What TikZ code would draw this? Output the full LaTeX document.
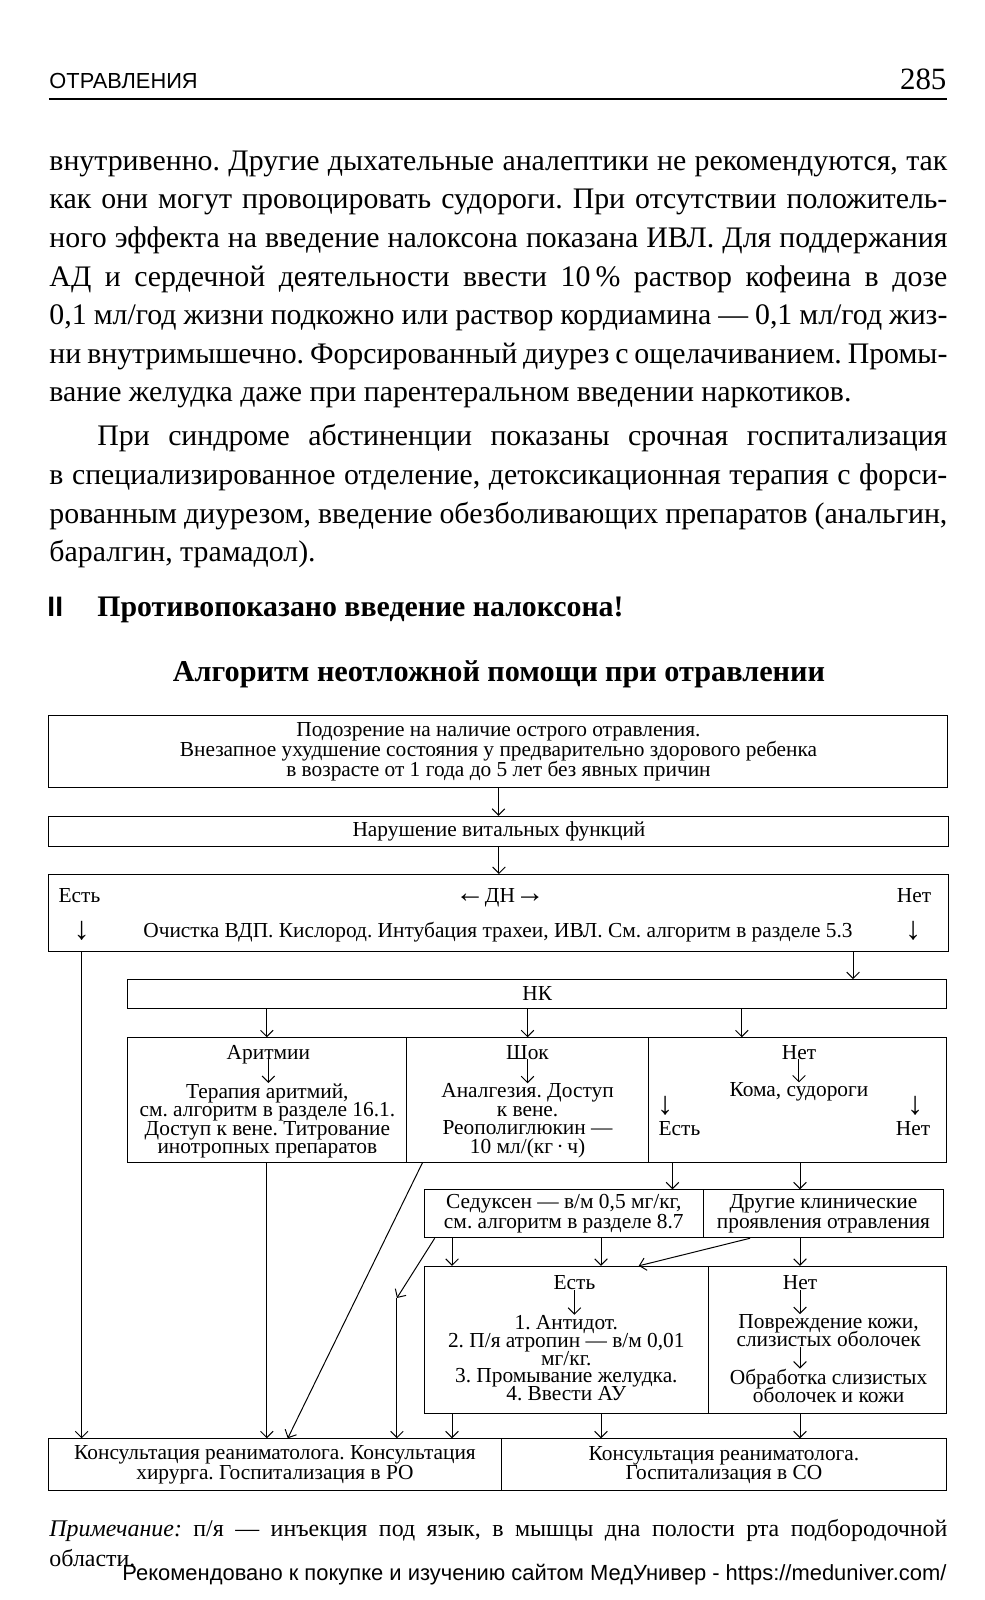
\documentclass[tikz,border=0pt]{standalone}
\usepackage{fontspec}
\setmainfont{Liberation Serif}
\setsansfont{Liberation Sans}
\usetikzlibrary{arrows.meta}
\frenchspacing

% one unit = one pixel of the page
\newlength\pu
\setlength\pu{0.0255cm}

% text sizes
\newcommand\bodysize{\fontsize{21.2}{27}\selectfont}
\newcommand\chartsize[1]{\fontsize{15.2}{#1}\selectfont\lineskiplimit=-20pt\relax}
\newcommand\jline[2]{\makebox[#1\pu][s]{#2}}
% arrow signs set as text
\newcommand\dnarr{{\fontsize{23}{23}\selectfont↓}}
\newcommand\lfarr{{\fontsize{21}{21}\selectfont←}}
\newcommand\rtarr{{\fontsize{21}{21}\selectfont→}}

\tikzset{
  box/.style={draw, inner sep=0pt, align=center, font=\chartsize{13.6pt}},
  txt/.style={inner sep=0pt, align=center, font=\chartsize{13.2pt}},
  body/.style={anchor=base west, inner sep=0pt, font=\bodysize},
  >={Straight Barb[length=4.5pt,width=9pt]}
}

\begin{document}
\begin{tikzpicture}[x=\pu, y=-\pu, line width=0.7pt]
    \path[use as bounding box, fill=white] (0,0) rectangle (965,1568);

    % running head
    \node[anchor=base west, inner sep=0pt, font=\sffamily\fontsize{15.5}{16}\selectfont] (head) at (48,87) {ОТРАВЛЕНИЯ};
    \node[anchor=base east, inner sep=0pt, font=\fontsize{22}{22}\selectfont] (page) at (928,88) {285};
    \draw[line width=1.1pt] (48,97) -- (928,97);

    % text of the page
    \node[body] (b1) at (48,167) {\jline{880}{внутривенно. Другие дыхательные аналептики не рекомендуются, так}};
    \node[body] (b2) at (48,204.8) {\jline{880}{как они могут провоцировать судороги. При отсутствии положитель-}};
    \node[body] (b3) at (48,242.6) {\jline{880}{ного эффекта на введение налоксона показана ИВЛ. Для поддержания}};
    \node[body] (b4) at (48,280.4) {\jline{880}{АД и сердечной деятельности ввести 10\,\% раствор кофеина в дозе}};
    \node[body] (b5) at (48,318.2) {\jline{880}{0,1 мл/год жизни подкожно или раствор кордиамина — 0,1 мл/год жиз-}};
    \node[body] (b6) at (48,356) {\jline{880}{ни внутримышечно. Форсированный диурез с ощелачиванием. Промы-}};
    \node[body] (b7) at (48,393.8) {вание желудка даже при парентеральном введении наркотиков.};
    \node[body] (b8) at (95,437) {\jline{833}{При синдроме абстиненции показаны срочная госпитализация}};
    \node[body] (b9) at (48,474.8) {\jline{880}{в специализированное отделение, детоксикационная терапия с форси-}};
    \node[body] (b10) at (48,512.6) {\jline{880}{рованным диурезом, введение обезболивающих препаратов (анальгин,}};
    \node[body] (b11) at (48,550.4) {баралгин, трамадол).};

    \node[anchor=base west, inner sep=0pt, font=\sffamily\bfseries\fontsize{20}{20}\selectfont] (mark) at (46,604) {II};
    \node[anchor=base west, inner sep=0pt, font=\bfseries\fontsize{21.2}{21}\selectfont] (warn) at (95,604) {Противопоказано введение налоксона!};
    \node[anchor=base, inner sep=0pt, font=\bfseries\fontsize{21.5}{21}\selectfont] (title) at (489,668) {Алгоритм неотложной помощи при отравлении};

    % columns used by the connectors
    \coordinate (xbypass) at (80,0);
    \coordinate (xnk) at (836,0);
    \coordinate (xnocol) at (727,0);
    \coordinate (xshk) at (414,0);
    \coordinate (xshkend) at (282,0);
    \coordinate (xsed) at (659,0);
    \coordinate (xoth) at (784,0);
    \coordinate (xyes1) at (443,0);
    \coordinate (xyes2) at (589,0);
    \coordinate (xsedd) at (426,0);
    \coordinate (xothd) at (735,0);
    \coordinate (xothend) at (626,0);
    \coordinate (join) at (389,1272);

    % boxes
    \node[box, minimum width=881\pu, minimum height=71\pu, font=\chartsize{14.1pt}] (susp) at (488.5,736.5) {Подозрение на наличие острого отравления.\\Внезапное ухудшение состояния у предварительно здорового ребенка\\в возрасте от 1 года до 5 лет без явных причин};
    \node[box, minimum width=882\pu, minimum height=30\pu] (viol) at (489,815) {Нарушение витальных функций};
    \node[box, minimum width=882\pu, minimum height=75\pu] (dn) at (489,894.5) {};
    \node[txt, anchor=base west] (dnyes) at (57,884) {Есть};
    \node[txt, anchor=base] (dnh) at (490,884) {\lfarr ДН\rtarr};
    \node[txt, anchor=base east] (dnno) at (913,884) {Нет};
    \node[txt, anchor=base] (dnyd) at (80,921) {\dnarr};
    \node[txt, anchor=base] (dnt) at (488,919) {Очистка ВДП. Кислород. Интубация трахеи, ИВЛ. См. алгоритм в разделе 5.3};
    \node[txt, anchor=base] (dnnd) at (895,921) {\dnarr};

    \node[box, minimum width=803\pu, minimum height=28\pu] (nk) at (526.5,974) {НК};

    \node[box, minimum width=273\pu, minimum height=122\pu] (arr) at (261.5,1078) {};
    \node[box, minimum width=238\pu, minimum height=122\pu] (shock) at (517,1078) {};
    \node[box, minimum width=292\pu, minimum height=122\pu] (nocol) at (782,1078) {};
    \node[txt, anchor=base] (arrh) at (263,1038) {Аритмии};
    \node[txt] (arrt) at (262,1098.5) {Терапия аритмий,\\см. алгоритм в разделе 16.1.\\Доступ к вене. Титрование\\инотропных препаратов};
    \node[txt, anchor=base] (shockh) at (517,1038) {Шок};
    \node[txt] (shockt) at (517,1098.5) {Аналгезия. Доступ\\к вене.\\Реополиглюкин —\\10 мл/(кг\,·\,ч)};
    \node[txt, anchor=base] (noh1) at (783,1038) {Нет};
    \node[txt, anchor=base] (coma) at (783,1075) {Кома, судороги};
    \node[txt, anchor=base] (comayd) at (652,1092) {\dnarr};
    \node[txt, anchor=base west] (comayes) at (645,1113) {Есть};
    \node[txt, anchor=base] (comand) at (897,1092) {\dnarr};
    \node[txt, anchor=base east] (comano) at (912,1113) {Нет};

    \node[box, minimum width=273\pu, minimum height=47\pu, font=\chartsize{13.7pt}] (sed) at (552.5,1189.5) {Седуксен — в/м 0,5 мг/кг,\\см. алгоритм в разделе 8.7};
    \node[box, minimum width=236\pu, minimum height=47\pu, font=\chartsize{13.7pt}] (other) at (807,1189.5) {Другие клинические\\проявления отравления};

    \node[box, minimum width=278\pu, minimum height=144\pu] (yes) at (555,1313) {};
    \node[box, minimum width=234\pu, minimum height=144\pu] (no) at (811,1313) {};
    \node[txt, anchor=base] (yesh) at (563,1264) {Есть};
    \node[txt, font=\chartsize{12.7pt}] (yest) at (555,1331) {1. Антидот.\\2. П/я атропин — в/м 0,01\\мг/кг.\\3. Промывание желудка.\\4. Ввести АУ};
    \node[txt, anchor=base] (noh) at (784,1264) {Нет};
    \node[txt, font=\chartsize{12.7pt}] (dmg) at (812,1304) {Повреждение кожи,\\слизистых оболочек};
    \node[txt, font=\chartsize{12.7pt}] (treat) at (812,1358) {Обработка слизистых\\оболочек и кожи};

    \node[box, minimum width=443\pu, minimum height=51\pu, font=\chartsize{13.7pt}] (cons1) at (269.5,1435.5) {Консультация реаниматолога. Консультация\\хирурга. Госпитализация в РО};
    \node[box, minimum width=437\pu, minimum height=51\pu, font=\chartsize{13.7pt}] (cons2) at (709.5,1435.5) {Консультация реаниматолога.\\Госпитализация в СО};

    % arrows inside the boxes
    \draw[->] (arrh.base) -- (arrh.base |- arrt.north);
    \draw[->] (shockh.base) -- (shockh.base |- shockt.north);
    \draw[->] (noh1.base) -- (noh1.base |- coma.north);
    \draw[->] (yesh.base) -- (yesh.base |- yest.north);
    \draw[->] (noh.base) -- (noh.base |- dmg.north);
    \draw[->] (dmg.south -| noh.base) -- (treat.north -| noh.base);

    % connectors
    \draw[->] (susp.south) -- (susp.south |- viol.north);
    \draw[->] (viol.south) -- (viol.south |- dn.north);
    \draw[->] (dn.south -| xnk) -- (nk.north -| xnk);
    \draw[->] (dn.south -| xbypass) -- (cons1.north -| xbypass);
    \draw[->] (nk.south -| arr.north) -- (arr.north);
    \draw[->] (nk.south -| shock.north) -- (shock.north);
    \draw[->] (nk.south -| xnocol) -- (nocol.north -| xnocol);
    \draw[->] (arr.south) -- (arr.south |- cons1.north);
    \draw[->] (shock.south -| xshk) -- (cons1.north -| xshkend);
    \draw[->] (nocol.south -| xsed) -- (sed.north -| xsed);
    \draw[->] (nocol.south -| xoth) -- (other.north -| xoth);
    \draw[->] (sed.south -| xyes1) -- (yes.north -| xyes1);
    \draw[->] (sed.south -| xyes2) -- (yes.north -| xyes2);
    \draw[->] (sed.south -| xsedd) -- (join);
    \draw[->] (join) -- (join |- cons1.north);
    \draw[->] (other.south -| xothd) -- (yes.north -| xothend);
    \draw[->] (other.south -| xoth) -- (no.north -| xoth);
    \draw[->] (yes.south -| xyes1) -- (cons1.north -| xyes1);
    \draw[->] (yes.south -| xyes2) -- (cons2.north -| xyes2);
    \draw[->] (no.south -| xoth) -- (cons2.north -| xoth);

    % note under the chart
    \node[anchor=base west, inner sep=0pt, font=\fontsize{17}{20}\selectfont] (note1) at (48,1506) {\jline{880}{\textit{Примечание:} п/я — инъекция под язык, в мышцы дна полости рта подбородочной}};
    \node[anchor=base west, inner sep=0pt, font=\fontsize{17}{20}\selectfont] (note2) at (48,1535) {области.};
    \node[anchor=base east, inner sep=0pt, font=\sffamily\fontsize{15.6}{16}\selectfont] (ad) at (928,1549) {Рекомендовано к покупке и изучению сайтом МедУнивер - https://meduniver.com/};

\end{tikzpicture}
\end{document}
